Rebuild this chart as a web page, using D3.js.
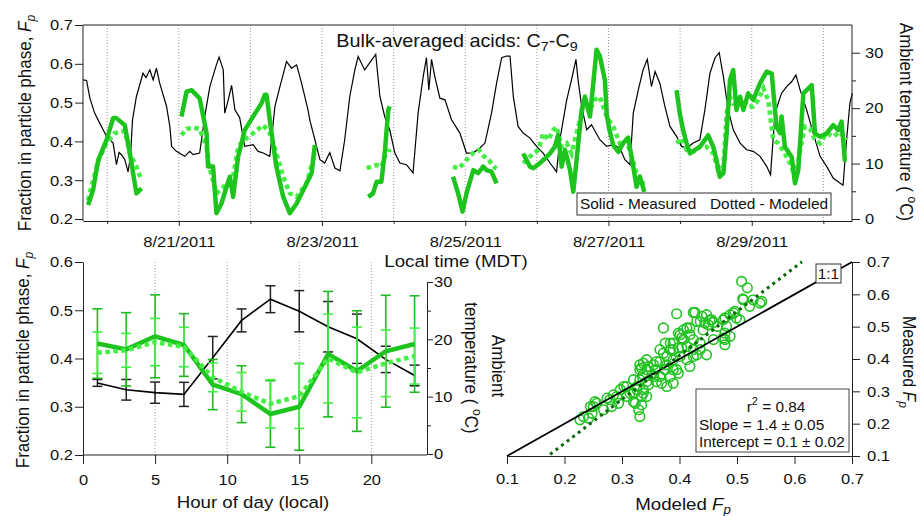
<!DOCTYPE html>
<html><head><meta charset="utf-8">
<script src="https://cdn.jsdelivr.net/npm/d3@7"></script>
<style>
html,body{margin:0;padding:0;background:#fff;}
svg{display:block;font-family:"Liberation Sans",Arial,sans-serif;}
</style></head><body>
<svg id="chart" width="921" height="516"></svg>
<script>
// ---------------- DATA ----------------
// Time series: [hours since 2011-08-20 00:00 MDT, value]
const tempSeries = [[-8.1,25.1],[-6.9,25.0],[-5.8,21.8],[-4.2,19.1],[-2.5,17.3],[-0.2,14.9],[2.0,13.7],[3.1,9.8],[4.0,12.0],[4.8,11.6],[5.9,10.7],[7.0,8.5],[7.8,11.3],[8.5,17.9],[9.8,22.1],[12.0,26.3],[13.0,25.5],[14.3,26.9],[15.4,25.1],[16.5,27.2],[17.6,24.5],[19.9,20.3],[21.0,16.7],[21.6,13.1],[23.2,12.2],[26.0,11.3],[27.7,12.2],[28.8,11.6],[31.0,11.9],[32.7,18.5],[34.4,23.9],[36.6,27.8],[37.5,29.2],[38.9,26.9],[39.4,19.1],[40.5,21.3],[41.7,24.1],[42.8,19.7],[44.4,18.3],[46.1,13.1],[48.9,13.4],[50.6,12.2],[52.3,11.9],[54.5,11.3],[56.2,20.3],[57.9,23.9],[60.1,28.4],[61.8,27.2],[63.5,27.8],[65.1,24.6],[67.3,19.7],[67.9,17.9],[69.6,14.3],[71.3,10.7],[72.9,10.1],[74.6,12.0],[76.3,9.2],[78.0,8.7],[79.6,14.3],[81.3,22.1],[83.0,26.9],[84.1,29.3],[86.3,26.9],[88.0,28.2],[90.0,29.7],[91.4,22.1],[93.0,18.5],[94.7,16.1],[96.4,11.9],[98.1,10.1],[100.3,9.8],[102.5,8.3],[104.2,19.1],[105.9,25.7],[107.0,29.1],[107.8,23.3],[108.7,28.8],[109.8,25.7],[111.5,21.8],[113.2,21.5],[115.4,17.9],[118.2,15.5],[120.4,11.9],[122.6,11.9],[124.9,12.8],[126.6,13.7],[128.8,19.1],[130.5,24.5],[132.2,29.1],[133.8,29.4],[135.0,29.4],[136.1,22.1],[137.7,16.7],[139.4,15.5],[141.7,14.6],[143.9,13.1],[146.1,11.9],[148.4,10.1],[150.6,8.5],[151.7,14.3],[154.0,21.5],[155.6,25.1],[157.1,28.8],[157.8,25.1],[159.0,20.3],[160.7,16.1],[162.3,17.0],[165.1,14.3],[167.4,13.1],[169.6,13.4],[171.8,12.8],[173.5,10.7],[175.2,9.8],[176.3,19.1],[178.0,23.3],[179.6,26.9],[181.0,28.8],[182.4,23.9],[183.6,26.6],[185.2,24.5],[186.9,20.3],[188.6,16.7],[190.8,14.9],[192.5,13.1],[194.2,12.8],[196.4,13.7],[198.6,14.3],[200.3,19.7],[202.0,26.3],[203.7,29.1],[205.1,30.0],[206.5,25.7],[208.1,19.7],[209.8,16.1],[212.1,13.7],[214.3,12.5],[216.5,12.2],[218.8,11.3],[221.0,9.5],[222.3,8.0],[223.8,19.1],[226.0,22.7],[227.7,23.9],[229.4,24.8],[230.8,26.0],[232.2,23.3],[234.4,19.7],[236.6,15.5],[238.9,11.3],[241.1,9.5],[243.3,7.4],[245.5,6.5],[246.6,6.1],[247.7,13.7],[248.9,20.9],[249.7,22.7]];

const measuredA = [[-6.4,0.236],[-4.7,0.275],[-3.0,0.352],[-0.2,0.404],[2.0,0.46],[3.1,0.46],[5.9,0.442],[7.6,0.369],[9.8,0.266],[11.5,0.279]];
const modeledA  = [[-6.4,0.248],[-4.7,0.30],[-3.0,0.35],[-0.2,0.395],[2.5,0.421],[4.8,0.425],[5.9,0.427],[7.6,0.369],[9.8,0.335],[11.5,0.30]];
const measuredB = [[24.9,0.464],[26.6,0.528],[28.3,0.532],[31.0,0.511],[33.3,0.421],[33.8,0.335],[35.5,0.335],[36.6,0.215],[38.3,0.24],[40.0,0.283],[41.1,0.309],[42.2,0.257],[43.9,0.361],[46.1,0.429],[48.9,0.464],[51.7,0.498],[52.8,0.52],[53.4,0.52],[55.1,0.421],[56.7,0.335],[59.0,0.257],[61.2,0.215],[63.5,0.24],[68.5,0.318],[69.6,0.391]];
const modeledB  = [[24.9,0.416],[26.6,0.432],[28.8,0.436],[31.0,0.432],[33.3,0.386],[34.2,0.335],[36.6,0.266],[39.0,0.283],[41.1,0.30],[42.2,0.309],[43.9,0.386],[46.1,0.404],[48.9,0.421],[52.3,0.442],[54.5,0.421],[56.7,0.369],[59.0,0.309],[61.2,0.266],[63.5,0.257],[66.8,0.292],[69.6,0.369]];
const measuredC = [[87.5,0.257],[89.1,0.266],[90.3,0.296],[91.9,0.296],[93.1,0.378],[94.2,0.481],[94.7,0.49]];
const modeledC  = [[87.0,0.331],[88.6,0.335],[90.3,0.339],[91.9,0.335],[93.1,0.362],[94.2,0.37],[94.7,0.38]];
const measuredD = [[115.9,0.309],[117.6,0.266],[119.1,0.219],[120.4,0.266],[122.7,0.326],[124.3,0.318],[126.0,0.335],[127.1,0.326],[128.8,0.322],[130.5,0.292]];
const modeledD  = [[115.9,0.335],[117.6,0.33],[119.6,0.344],[121.3,0.36],[123.0,0.373],[124.6,0.378],[126.2,0.362],[127.9,0.352],[129.5,0.335],[130.5,0.33]];
const measuredE = [[139.4,0.369],[141.7,0.335],[142.8,0.331],[145.0,0.344],[146.7,0.356],[148.4,0.369],[150.0,0.386],[151.1,0.416],[152.3,0.335],[153.4,0.378],[154.0,0.361],[155.1,0.326],[156.2,0.27],[157.3,0.352],[159.0,0.481],[160.1,0.515],[161.8,0.464],[164.0,0.636],[165.1,0.62],[166.8,0.558],[167.4,0.47],[168.3,0.43],[169.6,0.39],[171.3,0.373],[172.9,0.395],[174.6,0.41],[175.5,0.37],[176.3,0.335],[177.4,0.283],[178.5,0.31],[180.0,0.27]];
const modeledE  = [[139.4,0.344],[141.1,0.356],[142.8,0.369],[144.5,0.378],[146.1,0.421],[147.8,0.404],[149.5,0.429],[150.6,0.438],[152.3,0.386],[154.0,0.395],[155.6,0.369],[157.3,0.421],[159.0,0.473],[160.1,0.507],[161.8,0.481],[163.4,0.507],[165.1,0.515],[167.4,0.464],[169.6,0.438],[171.8,0.395],[174.0,0.404],[175.7,0.361],[177.4,0.318],[179.1,0.292],[180.2,0.292]];
const measuredF = [[190.8,0.532],[191.9,0.472],[193.0,0.429],[194.2,0.395],[195.3,0.369],[197.0,0.378],[198.6,0.386],[200.3,0.404],[201.4,0.416],[203.1,0.386],[204.2,0.352],[205.3,0.309],[206.5,0.318],[207.6,0.421],[208.7,0.558],[209.8,0.584],[210.9,0.481],[212.1,0.515],[213.2,0.481],[214.8,0.524],[216.5,0.507],[218.8,0.550],[221.0,0.580],[222.7,0.575],[224.3,0.438],[225.5,0.421],[226.0,0.464],[227.1,0.386],[229.4,0.360],[230.5,0.292],[231.6,0.326],[233.3,0.524],[236.1,0.545],[237.2,0.421],[238.9,0.412],[241.1,0.421],[243.3,0.442],[245.0,0.429],[246.1,0.451],[247.2,0.352],[247.8,0.352]];
const modeledF  = [[190.8,0.395],[192.5,0.408],[194.2,0.378],[196.4,0.373],[198.6,0.386],[200.8,0.386],[203.1,0.369],[204.7,0.326],[206.5,0.335],[207.6,0.472],[208.7,0.515],[209.8,0.498],[211.5,0.49],[213.2,0.507],[214.8,0.49],[216.5,0.49],[218.2,0.507],[219.9,0.537],[221.5,0.507],[223.2,0.404],[224.9,0.395],[227.1,0.369],[229.4,0.335],[230.5,0.30],[232.2,0.378],[233.8,0.438],[235.5,0.433],[237.2,0.404],[238.9,0.395],[241.1,0.421],[243.3,0.412],[245.5,0.425],[247.8,0.404]];
const measuredSegments = [measuredA, measuredB, measuredC, measuredD, measuredE, measuredF];
const modeledSegments  = [modeledA, modeledB, modeledC, modeledD, modeledE, modeledF];

// Diurnal averages
const diurnalHours   = [1,3,5,7,9,11,13,15,17,19,21,23];
const diurnalTemp    = [12.4,11.2,10.7,10.4,16.8,23.3,27.0,24.9,22.2,20.1,16.5,13.7];
const diurnalTempErr = [0.6,1.8,1.85,2.1,3.7,2.0,2.35,3.6,4.4,4.3,2.3,1.8];
const diurnalMeas    = [0.431,0.419,0.446,0.428,0.346,0.326,0.285,0.300,0.409,0.374,0.415,0.430];
const diurnalMeasErr = [0.072,0.076,0.086,0.065,0.052,0.059,0.069,0.09,0.13,0.125,0.116,0.1];
const diurnalMod     = [0.412,0.417,0.434,0.424,0.361,0.331,0.306,0.322,0.400,0.371,0.390,0.405];
const diurnalModErr  = [0.043,0.035,0.049,0.041,0.03,0.04,0.05,0.067,0.092,0.094,0.069,0.058];

// Scatter: modeled vs measured Fp
const scatterModeled = [0.508,0.518,0.543,0.528,0.510,0.522,0.540,0.395,0.427,0.439,0.447,0.453,0.436,0.444,0.459,0.479,0.494,0.499,0.505,0.482,0.466,0.418,0.407,0.404,0.418,0.424,0.389,0.398,0.384,0.413,0.436,0.459,0.479,0.479,0.447,0.424,0.413,0.401,0.389,0.378,0.372,0.366,0.378,0.389,0.398,0.355,0.343,0.331,0.337,0.352,0.366,0.360,0.378,0.343,0.331,0.320,0.326,0.337,0.334,0.320,0.323,0.334,0.331,0.308,0.297,0.308,0.285,0.294,0.274,0.282,0.268,0.250,0.248,0.233,0.242,0.227,0.253,0.372,0.424,0.456,0.476,0.488,0.496,0.511,0.479,0.413,0.398,0.407,0.384,0.389,0.430,0.418,0.395,0.384,0.360,0.355,0.337,0.331,0.326,0.337,0.314,0.303,0.291,0.279,0.256,0.245,0.346,0.369,0.389,0.366,0.343,0.346,0.334,0.488,0.476,0.441,0.450,0.430,0.343,0.329,0.320,0.375,0.404,0.424,0.375,0.358,0.401,0.436];
const scatterMeasured = [0.640,0.620,0.578,0.583,0.586,0.563,0.573,0.540,0.544,0.532,0.537,0.521,0.516,0.511,0.513,0.527,0.542,0.527,0.521,0.501,0.501,0.496,0.490,0.465,0.475,0.460,0.449,0.434,0.429,0.439,0.449,0.460,0.460,0.444,0.413,0.408,0.398,0.408,0.398,0.408,0.418,0.392,0.382,0.367,0.356,0.382,0.367,0.382,0.351,0.351,0.346,0.330,0.315,0.330,0.336,0.336,0.315,0.305,0.284,0.294,0.263,0.258,0.222,0.315,0.305,0.284,0.289,0.263,0.279,0.253,0.243,0.253,0.232,0.222,0.217,0.212,0.268,0.496,0.544,0.521,0.521,0.537,0.547,0.583,0.480,0.496,0.480,0.460,0.449,0.429,0.413,0.377,0.367,0.346,0.392,0.346,0.387,0.367,0.305,0.294,0.294,0.315,0.284,0.274,0.263,0.253,0.320,0.325,0.325,0.429,0.398,0.377,0.372,0.470,0.465,0.490,0.506,0.516,0.284,0.243,0.268,0.367,0.434,0.429,0.449,0.367,0.475,0.429];
const fitSlope = 1.36, fitIntercept = -0.133, fitXRange = [0.175, 0.613];
const statsLines = ["Slope = 1.4 \u00b1 0.05", "Intercept = 0.1 \u00b1 0.02"];

// ---------------- DRAWING ----------------
const SX = 1.1;
const FONT = '"Liberation Sans", Arial, sans-serif';
const AX = "#222";
const C_MEAS = "#1ec41e", C_MOD = "#44ee44", C_SCAT = "#22c222", C_FIT = "#0b6a0b";
const svg = d3.select("#chart");
const base = new Date(2011, 7, 20, 0, 0, 0);
const toDate = h => new Date(base.getTime() + h * 3600e3);

function styleAxis(g, fs) {
  g.attr("font-family", FONT).attr("font-size", fs);
  g.selectAll("path.domain").attr("stroke", AX);
  g.selectAll(".tick line").attr("stroke", AX);
  g.selectAll(".tick text").attr("fill", "#111");
}
function rotText(x, y, angle, fs) {
  return svg.append("text").attr("class", "nost")
    .attr("transform", `translate(${x},${y}) scale(${SX},1) rotate(${angle})`)
    .attr("text-anchor", "middle").attr("font-size", fs).attr("font-family", FONT).attr("fill", "#111");
}

// ===== TOP PANEL =====
const xTop = d3.scaleTime().domain([toDate(-8.1), toDate(249.6)]).range([83, 852]);
const yFp = d3.scaleLinear().domain([0.2, 0.7]).range([219, 25]);
const yTemp = d3.scaleLinear().domain([0, 35]).range([219, 25]);
const days = d3.timeDay.range(xTop.domain()[0], xTop.domain()[1]);

svg.append("g").selectAll("line").data(days).join("line")
  .attr("x1", d => xTop(d)).attr("x2", d => xTop(d)).attr("y1", 25).attr("y2", 221)
  .attr("stroke", "#9a9a9a").attr("stroke-width", 1).attr("stroke-dasharray", "1,2");

const lineT = d3.line().x(d => xTop(toDate(d[0]))).y(d => yTemp(d[1]));
svg.append("path").datum(tempSeries).attr("d", lineT).attr("fill", "none").attr("stroke", "#000").attr("stroke-width", 1.2);

const lineF = d3.line().x(d => xTop(toDate(d[0]))).y(d => yFp(d[1]));
svg.append("g").selectAll("path").data(modeledSegments).join("path").attr("d", lineF)
  .attr("fill", "none").attr("stroke", C_MOD).attr("stroke-width", 4.5).attr("stroke-dasharray", "4.5,3.5");
svg.append("g").selectAll("path").data(measuredSegments).join("path").attr("d", lineF)
  .attr("fill", "none").attr("stroke", C_MEAS).attr("stroke-width", 4.5).attr("stroke-linejoin", "round");

// frame top
svg.append("line").attr("x1", 83).attr("x2", 852).attr("y1", 25).attr("y2", 25).attr("stroke", AX);

const fmtDate = d3.timeFormat("%-m/%-d/%Y");
const gxTop = svg.append("g").attr("transform", "translate(0,221)")
  .call(d3.axisBottom(xTop).tickValues(days).tickSize(5).tickSizeOuter(0).tickPadding(10)
    .tickFormat(d => d.getDate() % 2 === 1 ? fmtDate(d) : ""));
styleAxis(gxTop, 15);
gxTop.selectAll(".tick line").filter(d => d.getDate() % 2 === 0).attr("y2", 3);

const gyTop = svg.append("g").attr("transform", "translate(83,0)")
  .call(d3.axisLeft(yFp).tickValues([0.2,0.3,0.4,0.5,0.6,0.7]).tickSize(8).tickPadding(2).tickSizeOuter(0).tickFormat(d3.format(".1f")));
styleAxis(gyTop, 15);
gyTop.select("path.domain").remove();
svg.append("line").attr("x1", 83).attr("x2", 83).attr("y1", 25).attr("y2", 221).attr("stroke", AX);

const gyTopR = svg.append("g").attr("transform", "translate(852,0)")
  .call(d3.axisRight(yTemp).tickValues([0,5,10,15,20,25,30]).tickSize(8).tickPadding(5).tickSizeOuter(0)
    .tickFormat(d => d % 10 === 0 ? d : ""));
styleAxis(gyTopR, 15);
gyTopR.select("path.domain").remove();
gyTopR.selectAll(".tick line").filter(d => d % 10 !== 0).attr("x2", 4);
svg.append("line").attr("x1", 852).attr("x2", 852).attr("y1", 25).attr("y2", 221).attr("stroke", AX);

// title
const title = svg.append("text").attr("x", 457).attr("y", 47).attr("text-anchor", "middle")
  .attr("font-size", 18).attr("font-family", FONT).attr("fill", "#111");
title.append("tspan").text("Bulk-averaged acids: C");
title.append("tspan").attr("font-size", 13).attr("dy", 4).text("7");
title.append("tspan").attr("dy", -4).text("-C");
title.append("tspan").attr("font-size", 13).attr("dy", 4).text("9");

// legend
svg.append("rect").attr("x", 577).attr("y", 193).attr("width", 254).attr("height", 22)
  .attr("fill", "#fff").attr("stroke", "#333").attr("stroke-width", 1);
svg.append("text").attr("x", 580).attr("y", 209).attr("font-size", 14).attr("font-family", FONT).attr("fill", "#111").text("Solid - Measured");
svg.append("text").attr("x", 710).attr("y", 209).attr("font-size", 14).attr("font-family", FONT).attr("fill", "#111").text("Dotted - Modeled");

// axis labels top
svg.append("text").attr("x", 456).attr("y", 267).attr("text-anchor", "middle")
  .attr("font-size", 17).attr("font-family", FONT).attr("fill", "#111").text("Local time (MDT)");
function fpLabel(x, y) {
  const t = rotText(x, y, -90, 17);
  t.append("tspan").text("Fraction in particle phase, ");
  t.append("tspan").attr("font-style", "italic").text("F");
  t.append("tspan").attr("font-style", "italic").attr("font-size", 12).attr("dy", 4).text("p");
}
fpLabel(31, 123);
{
  const t = rotText(900, 122, 90, 17);
  t.append("tspan").text("Ambient temperature ( ");
  t.append("tspan").attr("font-size", 12).attr("dy", -7).text("o");
  t.append("tspan").attr("dy", 7).text("C)");
}

// ===== BOTTOM-LEFT PANEL =====
const xD = d3.scaleLinear().domain([0, 24]).range([83, 429]);
const yD = d3.scaleLinear().domain([0.2, 0.6]).range([455, 262]);
const yDT = d3.scaleLinear().domain([0, 30]).range([454, 282]);

svg.append("g").selectAll("line").data([5, 10, 15, 20]).join("line")
  .attr("x1", d => xD(d)).attr("x2", d => xD(d)).attr("y1", 262).attr("y2", 455)
  .attr("stroke", "#9a9a9a").attr("stroke-dasharray", "1,2");

const diurnal = diurnalHours.map((h, i) => ({h, T: diurnalTemp[i], Te: diurnalTempErr[i],
  M: diurnalMeas[i], Me: diurnalMeasErr[i], P: diurnalMod[i], Pe: diurnalModErr[i]}));

function errorBars(g, yScale, vKey, eKey, color, w) {
  const sel = g.selectAll("g").data(diurnal).join("g");
  sel.append("line").attr("x1", d => xD(d.h)).attr("x2", d => xD(d.h))
    .attr("y1", d => yScale(d[vKey] - d[eKey])).attr("y2", d => yScale(d[vKey] + d[eKey]))
    .attr("stroke", color).attr("stroke-width", w);
  [-1, 1].forEach(s => sel.append("line")
    .attr("x1", d => xD(d.h) - 5).attr("x2", d => xD(d.h) + 5)
    .attr("y1", d => yScale(d[vKey] + s * d[eKey])).attr("y2", d => yScale(d[vKey] + s * d[eKey]))
    .attr("stroke", color).attr("stroke-width", w));
}
errorBars(svg.append("g"), yDT, "T", "Te", "#222", 1.5);
svg.append("path").datum(diurnal).attr("d", d3.line().x(d => xD(d.h)).y(d => yDT(d.T)))
  .attr("fill", "none").attr("stroke", "#000").attr("stroke-width", 1.6);
errorBars(svg.append("g"), yD, "M", "Me", "#20b820", 1.6);
errorBars(svg.append("g"), yD, "P", "Pe", C_MOD, 1.6);
svg.append("path").datum(diurnal).attr("d", d3.line().x(d => xD(d.h)).y(d => yD(d.M)))
  .attr("fill", "none").attr("stroke", C_MEAS).attr("stroke-width", 4.5);
svg.append("path").datum(diurnal).attr("d", d3.line().x(d => xD(d.h)).y(d => yD(d.P)))
  .attr("fill", "none").attr("stroke", C_MOD).attr("stroke-width", 4.5).attr("stroke-dasharray", "4.5,3.5");

const gxD = svg.append("g").attr("transform", "translate(0,455)")
  .call(d3.axisBottom(xD).tickValues([0, 5, 10, 15, 20]).tickSize(9).tickPadding(10).tickSizeOuter(0));
styleAxis(gxD, 15);
gxD.select("path.domain").remove();
svg.append("line").attr("x1", 83).attr("x2", 427).attr("y1", 455).attr("y2", 455).attr("stroke", AX);

const gyD = svg.append("g").attr("transform", "translate(83,0)")
  .call(d3.axisLeft(yD).tickValues([0.2, 0.3, 0.4, 0.5, 0.6]).tickSize(8).tickPadding(2).tickSizeOuter(0).tickFormat(d3.format(".1f")));
styleAxis(gyD, 15);

const gyDR = svg.append("g").attr("transform", "translate(427,0)")
  .call(d3.axisRight(yDT).tickValues([0, 5, 10, 15, 20, 25, 30]).tickSize(6).tickPadding(1).tickSizeOuter(0)
    .tickFormat(d => d % 10 === 0 ? d : ""));
styleAxis(gyDR, 15);
gyDR.selectAll(".tick line").filter(d => d % 10 !== 0).attr("x2", 4);

svg.append("text").attr("x", 253).attr("y", 508).attr("text-anchor", "middle")
  .attr("font-size", 17).attr("font-family", FONT).attr("fill", "#111").text("Hour of day (local)");
fpLabel(29, 360);
rotText(492, 366, 90, 17).text("Ambient");
{
  const t = rotText(465, 368, 90, 17);
  t.append("tspan").text("temperature ( ");
  t.append("tspan").attr("font-size", 12).attr("dy", -7).text("o");
  t.append("tspan").attr("dy", 7).text("C)");
}

// ===== SCATTER PANEL =====
const xS = d3.scaleLinear().domain([0.1, 0.7]).range([507, 852]);
const yS = d3.scaleLinear().domain([0.1, 0.7]).range([456, 262]);
const pts = scatterModeled.map((m, i) => ({m, M: scatterMeasured[i]}));

svg.append("g").selectAll("circle").data(pts).join("circle")
  .attr("cx", d => xS(d.m)).attr("cy", d => yS(d.M)).attr("r", 4.8)
  .attr("fill", "none").attr("stroke", C_SCAT).attr("stroke-width", 1.6);

svg.append("line").attr("x1", xS(0.1)).attr("y1", yS(0.1)).attr("x2", xS(0.7)).attr("y2", yS(0.7))
  .attr("stroke", "#000").attr("stroke-width", 1.8);
svg.append("line")
  .attr("x1", xS(fitXRange[0])).attr("y1", yS(fitSlope * fitXRange[0] + fitIntercept))
  .attr("x2", xS(fitXRange[1])).attr("y2", yS(fitSlope * fitXRange[1] + fitIntercept))
  .attr("stroke", C_FIT).attr("stroke-width", 3).attr("stroke-dasharray", "3,4");

const gxS = svg.append("g").attr("transform", "translate(0,456)")
  .call(d3.axisBottom(xS).tickValues([0.1,0.2,0.3,0.4,0.5,0.6,0.7]).tickSize(8).tickPadding(9).tickSizeOuter(0).tickFormat(d3.format(".1f")));
styleAxis(gxS, 15);
const gyS = svg.append("g").attr("transform", "translate(852,0)")
  .call(d3.axisRight(yS).tickValues([0.1,0.2,0.3,0.4,0.5,0.6,0.7]).tickSize(8).tickPadding(7).tickSizeOuter(0).tickFormat(d3.format(".1f")));
styleAxis(gyS, 15);

// 1:1 box
svg.append("rect").attr("x", 816).attr("y", 264).attr("width", 25).attr("height", 19)
  .attr("fill", "#fff").attr("stroke", "#333");
svg.append("text").attr("x", 828.5).attr("y", 279).attr("text-anchor", "middle")
  .attr("font-size", 14).attr("font-family", FONT).attr("fill", "#111").text("1:1");

// stats box
svg.append("rect").attr("x", 696).attr("y", 389).attr("width", 153).attr("height", 63)
  .attr("fill", "#fff").attr("stroke", "#444");
{
  const t = svg.append("text").attr("x", 776).attr("y", 412).attr("text-anchor", "middle")
    .attr("font-size", 14).attr("font-family", FONT).attr("fill", "#111");
  t.append("tspan").text("r");
  t.append("tspan").attr("font-size", 10).attr("dy", -7).text("2");
  t.append("tspan").attr("dy", 7).text(" = 0.84");
}
svg.append("g").selectAll("text").data(statsLines).join("text")
  .attr("x", 699).attr("y", (d, i) => 430 + i * 17.5)
  .attr("font-size", 14).attr("font-family", FONT).attr("fill", "#111").text(d => d);

{
  const t = svg.append("text").attr("x", 683).attr("y", 510).attr("text-anchor", "middle")
    .attr("font-size", 17).attr("font-family", FONT).attr("fill", "#111");
  t.append("tspan").text("Modeled ");
  t.append("tspan").attr("font-style", "italic").text("F");
  t.append("tspan").attr("font-style", "italic").attr("font-size", 12).attr("dy", 4).text("p");
}
{
  const t = rotText(903, 362, 90, 16);
  t.append("tspan").text("Measured ");
  t.append("tspan").attr("font-style", "italic").text("F");
  t.append("tspan").attr("font-style", "italic").attr("font-size", 12).attr("dy", 4).text("p");
}

// horizontal stretch of text, as in the reference rendering
svg.selectAll("text:not(.nost)").each(function () {
  const t = d3.select(this);
  const x = +t.attr("x") || 0;
  t.attr("transform", `translate(${x * (1 - SX)},0) scale(${SX},1)`);
});
</script></body></html>
